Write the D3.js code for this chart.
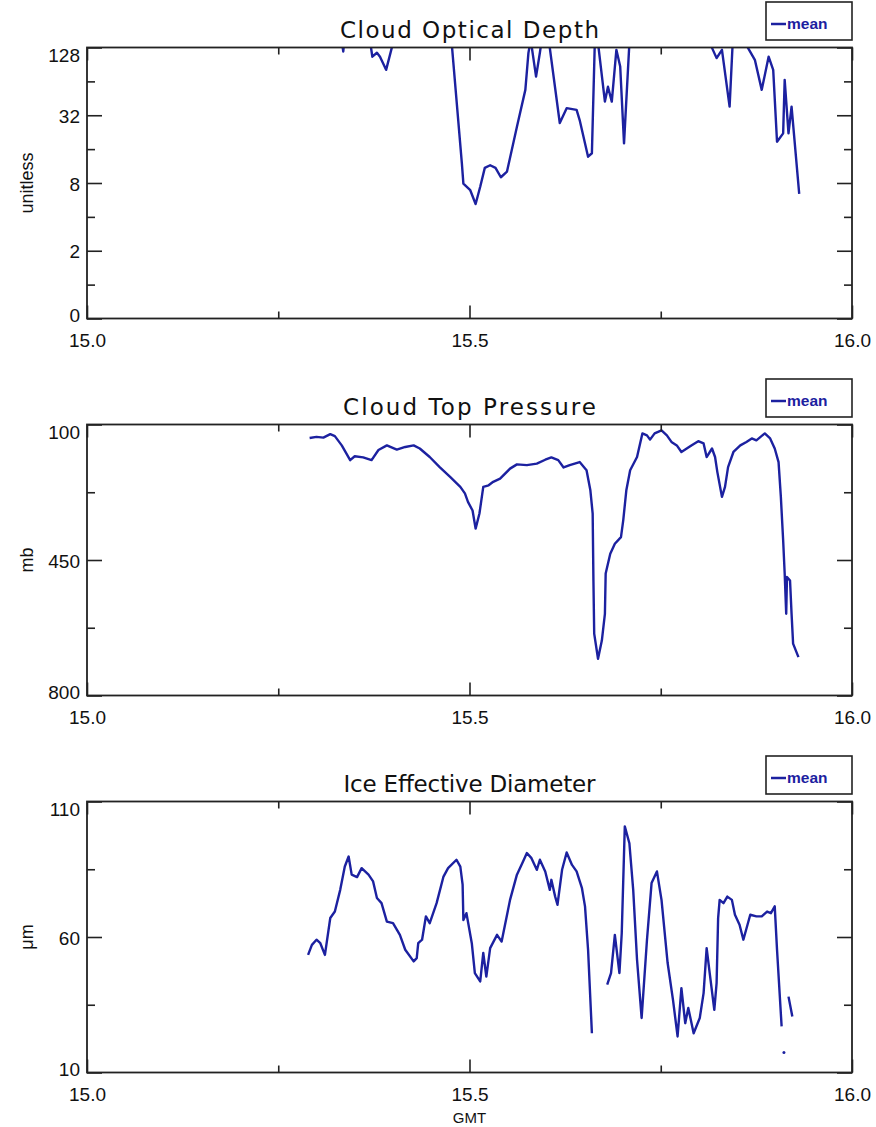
<!DOCTYPE html>
<html>
<head>
<meta charset="utf-8">
<script src="https://cdn.jsdelivr.net/npm/d3@7"></script>
<style>
body { margin: 0; background: #fff; }
svg { display: block; }
</style>
</head>
<body>
<script>

// x axis (GMT hours)
var xDomain = [15, 16];
var xMajor = [15.0, 15.5, 16.0];
var xMinor = [15.25, 15.75];

// Cloud Optical Depth (mean), values above 128 run off the top of the plot
var optTime = [15.290, 15.330, 15.335, 15.338, 15.365, 15.373, 15.379, 15.383, 15.391, 15.400,
	15.440, 15.476, 15.490, 15.492, 15.501, 15.508, 15.514, 15.520, 15.527, 15.534,
	15.541, 15.549, 15.562, 15.573, 15.577, 15.580, 15.587, 15.592, 15.595, 15.603,
	15.618, 15.627, 15.640, 15.644, 15.655, 15.660, 15.664, 15.667, 15.677, 15.681,
	15.686, 15.692, 15.697, 15.702, 15.709, 15.760, 15.815, 15.817, 15.823, 15.830,
	15.840, 15.844, 15.862, 15.864, 15.873, 15.882, 15.891, 15.897, 15.902, 15.910,
	15.912, 15.917, 15.921, 15.931];
var optMean = [300, 200, 118, 200, 250, 106, 115, 106, 81, 140,
	300, 160, 12.0, 7.9, 6.9, 5.2, 7.4, 10.9, 11.5, 10.9,
	9.0, 10.1, 25.3, 53.8, 114, 150, 70.6, 115, 160, 160,
	27.3, 37.0, 35.7, 29.0, 13.7, 14.7, 160, 160, 42.3, 57.4,
	42.3, 122, 86.6, 18.0, 140, 300, 140, 127, 103, 122,
	38.2, 140, 140, 127, 99.5, 53.8, 106, 81, 18.6, 22.1,
	66, 22.1, 38.2, 6.4];
var optMajor = [0.5, 2, 8, 32, 128];
var optMinor = [1, 4, 16, 64];

// Cloud Top Pressure (mean), mb
var ctpTime = [15.291, 15.300, 15.309, 15.318, 15.324, 15.333, 15.344, 15.350, 15.361, 15.372,
	15.381, 15.392, 15.405, 15.416, 15.427, 15.435, 15.448, 15.461, 15.475, 15.488,
	15.494, 15.498, 15.504, 15.508, 15.513, 15.518, 15.525, 15.531, 15.540, 15.553,
	15.562, 15.575, 15.588, 15.599, 15.607, 15.616, 15.623, 15.631, 15.644, 15.653,
	15.658, 15.661, 15.662, 15.663, 15.668, 15.673, 15.677, 15.678, 15.684, 15.690,
	15.698, 15.701, 15.705, 15.710, 15.719, 15.726, 15.732, 15.736, 15.742, 15.751,
	15.758, 15.764, 15.771, 15.777, 15.784, 15.790, 15.799, 15.806, 15.810, 15.817,
	15.821, 15.824, 15.830, 15.834, 15.838, 15.845, 15.854, 15.862, 15.869, 15.875,
	15.886, 15.893, 15.899, 15.904, 15.907, 15.910, 15.912, 15.914, 15.915, 15.919,
	15.921, 15.923, 15.930];
var ctpMean = [135, 132, 134, 125, 130, 154, 192, 182, 185, 192,
	166, 154, 165, 158, 154, 162, 184, 210, 236, 261,
	278, 300, 322, 369, 330, 261, 257, 248, 240, 214,
	203, 205, 201, 191, 185, 192, 211, 205, 197, 218,
	270, 330, 503, 640, 705, 658, 589, 485, 434, 408,
	391, 347, 270, 218, 184, 123, 128, 139, 123, 115,
	128, 145, 154, 171, 162, 154, 143, 149, 184, 162,
	184, 223, 287, 261, 210, 171, 154, 145, 136, 141,
	123, 136, 162, 197, 287, 399, 485, 589, 494, 503,
	589, 666, 701];
var ctpMajor = [100, 450, 800];
var ctpMinor = [275, 625];

// Ice Effective Diameter (mean), um; null = no retrieval
var iceTime = [15.289, 15.294, 15.300, 15.305, 15.311, 15.318, 15.324, 15.331, 15.337, 15.342,
	15.346, 15.353, 15.359, 15.368, 15.374, 15.379, 15.385, 15.392, 15.400, 15.409,
	15.416, 15.427, 15.431, 15.433, 15.438, 15.443, 15.448, 15.457, 15.466, 15.472,
	15.483, 15.488, 15.491, 15.492, 15.496, 15.503, 15.507, 15.514, 15.518, 15.522,
	15.527, 15.536, 15.542, 15.553, 15.562, 15.570, 15.575, 15.581, 15.588, 15.592,
	15.599, 15.605, 15.607, 15.612, 15.615, 15.621, 15.627, 15.634, 15.640, 15.647,
	15.651, 15.655, 15.660, 15.670, 15.680, 15.685, 15.690, 15.696, 15.699, 15.703,
	15.709, 15.714, 15.719, 15.725, 15.732, 15.738, 15.745, 15.751, 15.759, 15.766,
	15.772, 15.777, 15.782, 15.786, 15.793, 15.801, 15.806, 15.810, 15.814, 15.820,
	15.823, 15.825, 15.827, 15.832, 15.837, 15.843, 15.847, 15.853, 15.858, 15.867,
	15.875, 15.882, 15.889, 15.894, 15.899, 15.902, 15.908, 15.909, 15.911, 15.914,
	15.917, 15.922];
var iceMean = [53.4, 57.1, 59.0, 57.7, 53.4, 67.0, 69.4, 77.4, 86.0, 89.7,
	83.0, 82.1, 85.4, 83.0, 80.5, 74.4, 72.5, 65.7, 65.1, 60.8,
	55.3, 51.0, 52.2, 57.7, 59.0, 67.6, 65.1, 72.5, 82.3, 85.4,
	88.5, 86.0, 79.3, 66.3, 68.8, 57.7, 46.7, 43.6, 54.1, 45.4,
	55.9, 60.8, 58.3, 73.7, 83.0, 87.9, 91.0, 89.1, 84.8, 88.5,
	84.2, 77.4, 81.1, 74.9, 71.9, 84.8, 91.2, 86.6, 84.2, 78.0,
	71.3, 55.3, 24.5, null, 42.4, 46.7, 60.8, 46.7, 61.4, 100.8,
	94.6, 77.4, 51.6, 30.1, 59.0, 79.9, 84.2, 73.7, 50.4, 36.8,
	23.3, 41.1, 28.2, 33.8, 24.5, 30.1, 39.3, 55.9, 46.7, 33.1,
	43.0, 67.0, 73.7, 72.5, 74.9, 73.7, 68.2, 64.5, 59.0, 68.2,
	67.6, 67.6, 69.4, 68.8, 71.3, 55.3, 27.0, null, 17.4, null,
	38.0, 30.7];
var iceMajor = [10, 60, 110];
var iceMinor = [35, 85];

var W = 876, H = 1127;
var left = 87, right = 852, panelH = 271;
var lineColor = "#1c21a0";
var axisColor = "#222";

var svg = d3.select("body").append("svg")
	.attr("width", W)
	.attr("height", H)
	.style("font-family", "'Liberation Sans', Arial, sans-serif");

var x = d3.scaleLinear().domain(xDomain).range([left, right]);

var panels = [
	{ id: "opt", title: "Cloud Optical Depth", titleLen: 259, ylabel: "unitless", top: 47.5,
		time: optTime, vals: optMean, major: optMajor, minor: optMinor,
		y: d3.scaleLog().base(2).domain([0.5, 128]),
		fmt: function(d) { return d < 1 ? "0" : d; } },
	{ id: "ctp", title: "Cloud Top Pressure", titleLen: 253, ylabel: "mb", top: 424.5,
		time: ctpTime, vals: ctpMean, major: ctpMajor, minor: ctpMinor,
		y: d3.scaleLinear().domain([800, 100]),
		fmt: function(d) { return d; } },
	{ id: "ice", title: "Ice Effective Diameter", titleLen: 252, ylabel: "\u03bcm", top: 801.5,
		time: iceTime, vals: iceMean, major: iceMajor, minor: iceMinor,
		y: d3.scaleLinear().domain([10, 110]),
		fmt: function(d) { return d; } }
];

panels.forEach(function(p) {
	var top = p.top, bottom = top + panelH;
	var y = p.y.range([bottom, top]);
	var g = svg.append("g").attr("class", "panel-" + p.id);

	g.append("clipPath").attr("id", "clip-" + p.id)
		.append("rect")
		.attr("x", left).attr("y", top)
		.attr("width", right - left).attr("height", panelH);

	// data
	var pts = p.time.map(function(t, i) { return { t: t, v: p.vals[i] }; });
	var line = d3.line()
		.defined(function(d) { return d.v != null; })
		.x(function(d) { return x(d.t); })
		.y(function(d) { return y(d.v); });

	var plot = g.append("g").attr("clip-path", "url(#clip-" + p.id + ")");
	plot.append("path")
		.datum(pts)
		.attr("d", line)
		.attr("fill", "none")
		.attr("stroke", lineColor)
		.attr("stroke-width", 2.4)
		.attr("stroke-linejoin", "round");

	// lone samples between gaps
	var lone = pts.filter(function(d, i) {
		return d.v != null && (i == 0 || pts[i-1].v == null) && (i == pts.length-1 || pts[i+1].v == null);
	});
	plot.selectAll("circle.lone").data(lone).enter().append("circle")
		.attr("class", "lone")
		.attr("cx", function(d) { return x(d.t); })
		.attr("cy", function(d) { return y(d.v); })
		.attr("r", 1.5)
		.attr("fill", lineColor);

	// axes
	function styleAxis(sel) {
		sel.select(".domain").remove();
		sel.selectAll("line").attr("stroke", axisColor).attr("stroke-width", 1.6);
		sel.selectAll("text").attr("fill", "#111").style("font-size", "19px");
	}

	var yl = g.append("g").attr("transform", "translate(" + left + ",0)")
		.call(d3.axisLeft(y).tickValues(p.major).tickSize(-15).tickPadding(7).tickFormat(p.fmt))
		.call(styleAxis);
	yl.selectAll("text")
		.attr("dy", null)
		.attr("y", function(d) {
			var py = y(d);
			if (Math.abs(py - top) < 1) return 14;
			if (Math.abs(py - bottom) < 1) return 3;
			return 7;
		});
	g.append("g").attr("transform", "translate(" + left + ",0)")
		.call(d3.axisLeft(y).tickValues(p.minor).tickSize(-8).tickFormat(""))
		.call(styleAxis);
	g.append("g").attr("transform", "translate(" + right + ",0)")
		.call(d3.axisRight(y).tickValues(p.major).tickSize(-15).tickFormat(""))
		.call(styleAxis);
	g.append("g").attr("transform", "translate(" + right + ",0)")
		.call(d3.axisRight(y).tickValues(p.minor).tickSize(-8).tickFormat(""))
		.call(styleAxis);

	g.append("g").attr("transform", "translate(0," + bottom + ")")
		.call(d3.axisBottom(x).tickValues(xMajor).tickSize(-13).tickPadding(15).tickFormat(d3.format(".1f")))
		.call(styleAxis);
	g.append("g").attr("transform", "translate(0," + bottom + ")")
		.call(d3.axisBottom(x).tickValues(xMinor).tickSize(-7).tickFormat(""))
		.call(styleAxis);
	g.append("g").attr("transform", "translate(0," + top + ")")
		.call(d3.axisTop(x).tickValues(xMajor).tickSize(-13).tickFormat(""))
		.call(styleAxis);
	g.append("g").attr("transform", "translate(0," + top + ")")
		.call(d3.axisTop(x).tickValues(xMinor).tickSize(-7).tickFormat(""))
		.call(styleAxis);

	// frame
	g.append("rect")
		.attr("x", left).attr("y", top)
		.attr("width", right - left).attr("height", panelH)
		.attr("fill", "none")
		.attr("stroke", axisColor)
		.attr("stroke-width", 1.8);

	// title
	g.append("text")
		.attr("x", (left + right) / 2)
		.attr("y", top - 9.5)
		.attr("text-anchor", "middle")
		.attr("textLength", p.titleLen)
		.attr("lengthAdjust", "spacing")
		.style("font-family", "'DejaVu Sans', sans-serif")
		.style("font-size", "23px")
		.attr("fill", "#111")
		.text(p.title);

	// y label
	g.append("text")
		.attr("transform", "translate(33," + (top + panelH / 2) + ") rotate(-90)")
		.attr("text-anchor", "middle")
		.style("font-size", "18px")
		.attr("fill", "#111")
		.text(p.ylabel);

	// legend
	var lg = g.append("g").attr("transform", "translate(766," + (top - 45.5) + ")");
	lg.append("rect")
		.attr("width", 86).attr("height", 38)
		.attr("fill", "#fff")
		.attr("stroke", axisColor)
		.attr("stroke-width", 1.6);
	lg.append("line")
		.attr("x1", 5).attr("x2", 20)
		.attr("y1", 22).attr("y2", 22)
		.attr("stroke", lineColor)
		.attr("stroke-width", 2.5);
	lg.append("text")
		.attr("x", 21).attr("y", 27)
		.style("font-size", "15.5px")
		.style("font-weight", "bold")
		.attr("fill", lineColor)
		.text("mean");
});

svg.append("text")
	.attr("x", (left + right) / 2)
	.attr("y", 1123)
	.attr("text-anchor", "middle")
	.style("font-size", "15px")
	.attr("fill", "#111")
	.text("GMT");

</script>
</body>
</html>
